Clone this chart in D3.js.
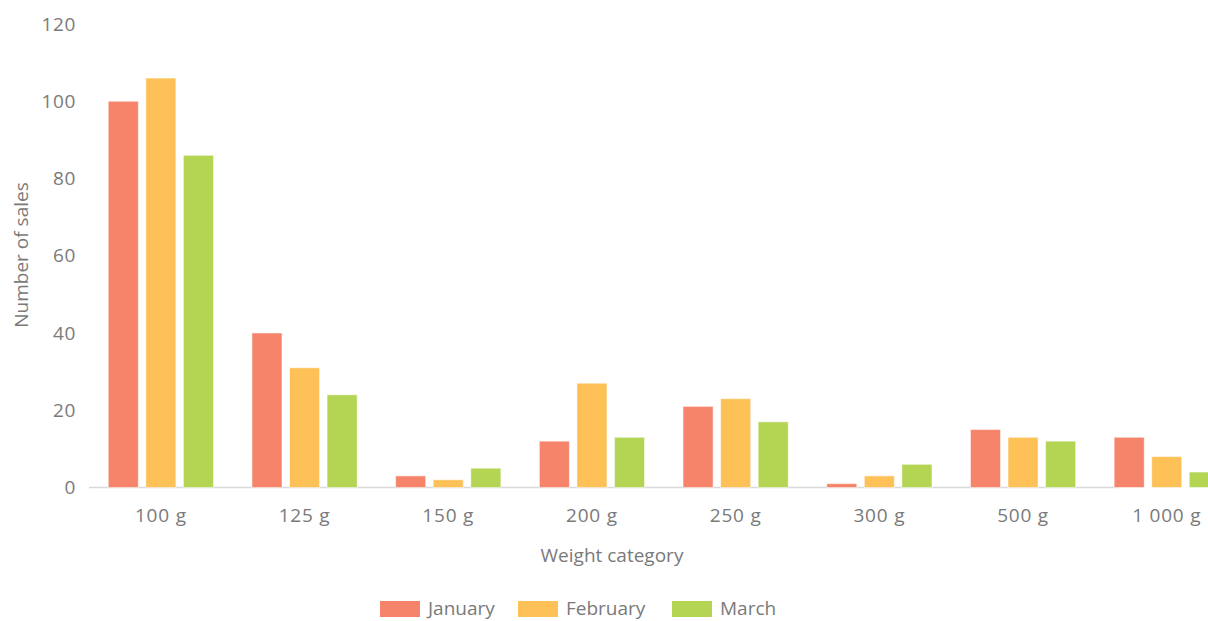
<!DOCTYPE html>
<html>
<head>
<meta charset="utf-8">
<script src="https://cdn.jsdelivr.net/npm/d3@7"></script>
<style>
  html, body { margin: 0; padding: 0; background: #fff; }
  svg { display: block; }
  text { font-family: "Open Sans", sans-serif; fill: #7a7a7a; }
</style>
</head>
<body>
<svg id="chart" width="1208" height="621"></svg>
<script>
const categories = ["100 g", "125 g", "150 g", "200 g", "250 g", "300 g", "500 g", "1 000 g"];
const seriesNames = ["January", "February", "March"];
const january = [100, 40, 3, 12, 21, 1, 15, 13];
const february = [106, 31, 2, 27, 23, 3, 13, 8];
const march = [86, 24, 5, 13, 17, 6, 12, 4];
const yTicks = [0, 20, 40, 60, 80, 100, 120];
const colors = ["#F5846A", "#FDC157", "#B4D454"];

const seriesValues = [january, february, march];
const svg = d3.select("#chart");

const x0 = d3.scaleBand().domain(categories).range([89, 89 + 8 * 143.7])
  .paddingInner(0.268).paddingOuter(0.134);
const x1 = d3.scaleBand().domain(seriesNames).range([0, x0.bandwidth()])
  .paddingInner(0.2).paddingOuter(0);
const y = d3.scaleLinear().domain([0, 120]).range([487.5, 24]);

// y tick labels
const yAxis = d3.axisLeft(y).tickValues(yTicks).tickSize(0).tickPadding(0);
const gy = svg.append("g").attr("transform", "translate(76,0)").call(yAxis);
gy.select(".domain").remove();
gy.selectAll("text").attr("font-size", 19).attr("letter-spacing", 0.6).style("fill", "#7a7a7a")
  .attr("font-family", "Open Sans, sans-serif");

// baseline
svg.append("line")
  .attr("x1", 89).attr("x2", 1119)
  .attr("y1", y(0)).attr("y2", y(0))
  .attr("stroke", "#d9d9d9").attr("stroke-width", 1.5);

// bars
const groups = svg.append("g").selectAll("g")
  .data(categories).join("g")
  .attr("transform", d => `translate(${x0(d)},0)`);

groups.selectAll("rect")
  .data((c, i) => seriesNames.map((s, k) => ({ s, k, v: seriesValues[k][i] })))
  .join("rect")
  .attr("x", d => x1(d.s))
  .attr("width", x1.bandwidth())
  .attr("y", d => y(d.v))
  .attr("height", d => y(0) - y(d.v))
  .attr("fill", d => colors[d.k])
  .attr("stroke", "rgba(255,255,255,0.5)")
  .attr("stroke-width", 1);

// x labels
const xAxis = d3.axisBottom(x0).tickSize(0).tickPadding(0);
const gx = svg.append("g").attr("transform", "translate(0,522)").call(xAxis);
gx.select(".domain").remove();
gx.selectAll("text").attr("font-size", 19).attr("dy", 0).attr("letter-spacing", 0.8)
  .style("fill", "#7a7a7a").attr("font-family", "Open Sans, sans-serif");

// axis titles
svg.append("text")
  .attr("x", 612).attr("y", 562)
  .attr("text-anchor", "middle")
  .attr("font-size", 19)
  .text("Weight category");

svg.append("text")
  .attr("transform", "translate(28,255) rotate(-90)")
  .attr("text-anchor", "middle")
  .attr("font-size", 19)
  .text("Number of sales");

// legend
const legendX = [380, 518, 672];
const lg = svg.append("g").selectAll("g")
  .data(seriesNames).join("g")
  .attr("transform", (d, i) => `translate(${legendX[i]},601)`);
lg.append("rect").attr("width", 40).attr("height", 16)
  .attr("fill", (d, i) => colors[i]);
lg.append("text").attr("x", 48).attr("y", 14)
  .attr("font-size", 19).text(d => d);
</script>
</body>
</html>
